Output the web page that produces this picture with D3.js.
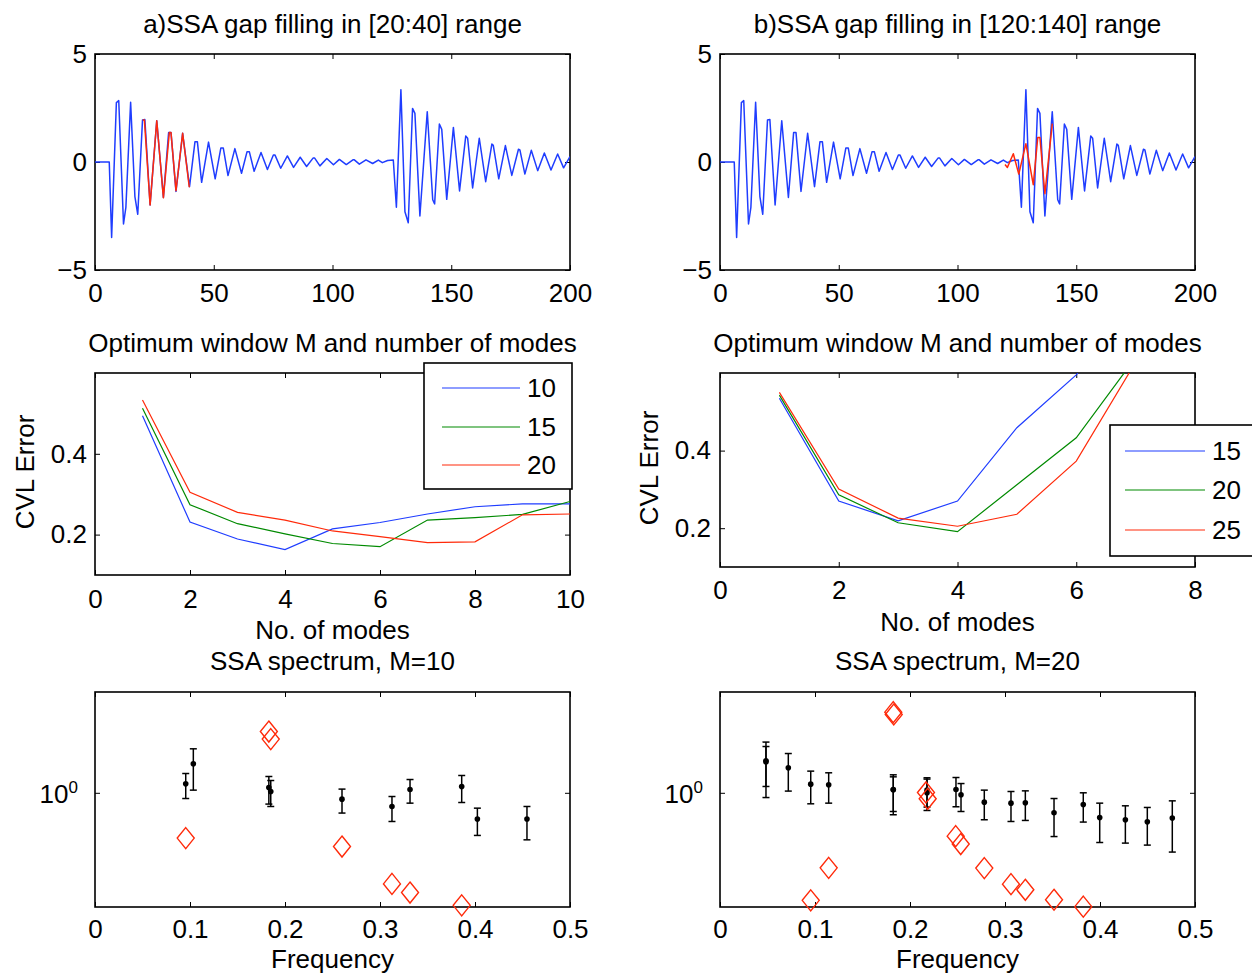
<!DOCTYPE html>
<html><head><meta charset="utf-8">
<script src="https://cdn.jsdelivr.net/npm/d3@7"></script>
<style>body{margin:0;background:#fff}svg{display:block;font-family:"Liberation Sans",Arial,Helvetica,sans-serif}</style>
</head><body><svg id="chart" width="1252" height="974"></svg>
<script>
// ---------- DATA ----------
// full signal (x, value) vertices
const signal = [[0,0],[6,0],[7,-3.49],[9,2.75],[10,2.84],[12,-2.87],[13,-2.1],[15,2.77],[16.8,-1.6],[18,-2.42],[20,1.94],[21,1.97],[23.2,-1.99],[26,1.91],[28.8,-1.64],[31,1.36],[32,1.36],[34.1,-1.36],[36.9,1.33],[39.8,-1.14],[42.1,0.94],[43.1,0.94],[44.9,-0.94],[47.8,0.92],[50.6,-0.78],[53,0.65],[54,0.65],[56,-0.63],[58.9,0.62],[61.7,-0.52],[64,0.47],[65,0.47],[67,-0.43],[69.9,0.44],[72.6,-0.35],[75.1,0.32],[75.8,0.32],[78.2,-0.29],[81,0.28],[83.6,-0.25],[86.4,0.22],[89.1,-0.21],[91.8,0.18],[92.5,0.18],[94.7,-0.18],[97.6,0.16],[100.4,-0.13],[102.9,0.12],[105.8,-0.12],[108.6,0.1],[109.2,0.1],[111.3,-0.1],[114.1,0.1],[116.9,-0.07],[119.3,0.09],[121,-0.03],[123.2,0.07],[125.6,0.09],[126.9,-2.09],[128.8,3.35],[130.5,-2.3],[131.9,-2.81],[133.7,2.48],[134.7,2.25],[136.8,-2.5],[139.9,2.33],[142.2,-1.75],[143,-1.94],[145,1.76],[146,1.51],[148.1,-1.73],[150.9,1.6],[153.5,-1.34],[156.1,1.2],[156.9,1.1],[159,-1.2],[161.8,1.1],[164.5,-0.91],[167.1,0.83],[167.7,0.77],[170,-0.78],[172.8,0.76],[175.5,-0.62],[178.3,0.59],[178.9,0.56],[181,-0.56],[183.7,0.54],[186.4,-0.4],[189.2,0.42],[192,-0.37],[194.8,0.37],[197.3,-0.27],[200,0.25]];
const fillA = [[20.1,1.94],[20.8,1.94],[23.2,-1.99],[26,1.91],[28.8,-1.65],[31.3,1.36],[32,1.36],[34.1,-1.33],[36.9,1.33],[39.7,-1.17]];
const fillB = [[120,-0.12],[121,-0.25],[123.5,0.38],[125.8,-0.56],[128.8,0.85],[131.9,-1.05],[133.8,1.14],[134.7,1.14],[136.8,-1.47],[139.9,1.78]];
const tsXTicks = [0,50,100,150,200];
const tsYTicks = [-5,0,5];

const modesC = [1,2,3,4,5,6,7,8,9,10];
const cvlC_M10 = [0.494,0.231,0.189,0.163,0.214,0.230,0.251,0.269,0.276,0.276];
const cvlC_M15 = [0.513,0.274,0.227,0.202,0.178,0.170,0.236,0.242,0.250,0.282];
const cvlC_M20 = [0.533,0.305,0.255,0.236,0.209,0.195,0.180,0.182,0.249,0.251];
const legendC = ["10","15","20"];
const modesD = [1,2,3,4,5,6,7,8];
const cvlD_M15 = [0.535,0.270,0.219,0.270,0.459,0.595,0.80,1.0];
const cvlD_M20 = [0.543,0.286,0.214,0.191,0.312,0.433,0.64,0.85];
const cvlD_M25 = [0.550,0.301,0.226,0.205,0.236,0.373,0.628,0.85];
const legendD = ["15","20","25"];
const cvlYTicks = [0.2,0.4];

const freqE = [0.0955,0.1035,0.183,0.185,0.260,0.3126,0.3316,0.386,0.4025,0.4547];
const eigE  = [1.115,1.422,1.066,1.016,0.926,0.847,1.041,1.080,0.727,0.727];
const eigE_hi = [1.264,1.706,1.219,1.161,1.046,0.956,1.175,1.234,0.830,0.847];
const eigE_lo = [0.933,1.033,0.872,0.847,0.782,0.706,0.882,0.889,0.596,0.565];
const dFreqE = [0.0955,0.183,0.185,0.260,0.3126,0.3316,0.386];
const dValE  = [0.577,2.104,1.919,0.521,0.331,0.298,0.255];

const freqF = [0.0484,0.0484,0.0719,0.0955,0.1144,0.1824,0.1824,0.2179,0.2179,0.2484,0.2537,0.2782,0.3063,0.3214,0.3516,0.3824,0.3997,0.4267,0.4498,0.4761];
const eigF  = [1.475,1.457,1.354,1.111,1.102,1.041,1.037,1.033,1.0,1.041,0.976,0.893,0.882,0.886,0.785,0.868,0.741,0.721,0.703,0.736];
const eigF_hi = [1.851,1.754,1.611,1.301,1.275,1.244,1.214,1.200,1.181,1.204,1.119,1.033,1.016,1.024,0.933,1.0,0.882,0.854,0.837,0.907];
const eigF_lo = [0.944,1.080,1.021,0.875,0.882,0.766,0.797,0.807,0.841,0.844,0.797,0.721,0.706,0.715,0.588,0.701,0.547,0.543,0.530,0.487];
const dFreqF = [0.0955,0.1144,0.1824,0.1829,0.2168,0.2186,0.2481,0.2534,0.2782,0.3063,0.3214,0.3516,0.3824];
const dValF  = [0.271,0.402,2.663,2.587,1.004,0.930,0.591,0.537,0.401,0.330,0.308,0.273,0.251];
const freqTicks = [0,0.1,0.2,0.3,0.4,0.5];

const BLUE = "#1f3dff", GREEN = "#008a00", RED = "#ff2a0a";
const FS = 26;

// ---------- DRAW ----------
const svg = d3.select("#chart");
const defs = svg.append("defs");
let clipId = 0;

function frame(xs, ys, o) {
  const [xl, xr] = xs.range();
  const [yb, yt] = ys.range();
  const g = svg.append("g");
  g.append("g").attr("transform", `translate(0,${yb})`)
    .call(d3.axisBottom(xs).tickValues(o.xt).tickSize(-5).tickPadding(o.xpad).tickFormat(o.xf));
  g.append("g").attr("transform", `translate(0,${yt})`)
    .call(d3.axisTop(xs).tickValues(o.xt).tickSize(-5).tickFormat(""));
  g.append("g").attr("transform", `translate(${xl},0)`)
    .call(d3.axisLeft(ys).tickValues(o.yt).tickSize(-5).tickPadding(o.ypad).tickFormat(o.yf));
  g.append("g").attr("transform", `translate(${xr},0)`)
    .call(d3.axisRight(ys).tickValues(o.yt).tickSize(-5).tickFormat(""));
  g.selectAll(".domain").remove();
  g.selectAll("g").attr("font-family", null).attr("font-size", null);
  g.selectAll(".tick line").attr("stroke", "#000").attr("stroke-width", 1);
  g.selectAll(".tick text").attr("font-size", FS).attr("fill", "#000");
  g.append("rect").attr("x", xl).attr("y", yt).attr("width", xr - xl).attr("height", yb - yt)
    .attr("fill", "none").attr("stroke", "#000").attr("stroke-width", 1.6);
  const id = "clip" + (clipId++);
  defs.append("clipPath").attr("id", id).append("rect")
    .attr("x", xl).attr("y", yt).attr("width", xr - xl).attr("height", yb - yt);
  return id;
}

function text(x, y, s, opts = {}) {
  const t = svg.append("text").attr("x", x).attr("y", y).attr("font-size", opts.size || FS)
    .attr("text-anchor", opts.anchor || "middle").attr("fill", "#000").text(s);
  if (opts.rotate) t.attr("transform", `rotate(-90,${x},${y})`);
  return t;
}

// Panels a, b: time series
const tsPanels = [
  {x0: 95, x1: 570, title: "a)SSA gap filling in [20:40] range", fill: fillA},
  {x0: 720, x1: 1195, title: "b)SSA gap filling in [120:140] range", fill: fillB}
];
tsPanels.forEach(p => {
  const xs = d3.scaleLinear().domain([0, 200]).range([p.x0, p.x1]);
  const ys = d3.scaleLinear().domain([-5, 5]).range([270, 54]);
  const cid = frame(xs, ys, {xt: tsXTicks, xf: d3.format("d"), xpad: 14, yt: tsYTicks, yf: d3.format("d"), ypad: 8});
  const line = d3.line().x(d => xs(d[0])).y(d => ys(d[1]));
  const g = svg.append("g").attr("clip-path", `url(#${cid})`);
  g.append("path").attr("d", line(signal)).attr("fill", "none").attr("stroke", BLUE).attr("stroke-width", 1.5).attr("stroke-linejoin", "round");
  g.append("path").attr("d", line(p.fill)).attr("fill", "none").attr("stroke", RED).attr("stroke-width", 1.5).attr("stroke-linejoin", "round");
  text((p.x0 + p.x1) / 2, 33, p.title);
});

// Panels c, d: CVL error
const cvlPanels = [
  {x0: 95, x1: 570, yb: 575, xmax: 10, modes: modesC, series: [cvlC_M10, cvlC_M15, cvlC_M20], labels: legendC,
   xt: [0,2,4,6,8,10], xpad: 15, ypad: 8, xlabY: 639, ylabX: 34, ylabY: 472,
   leg: {x: 424, y: 363, w: 148, h: 126, lx0: 442, lx1: 520, tx: 527, rows: [388, 427, 465]}},
  {x0: 720, x1: 1195, yb: 567, xmax: 8, modes: modesD, series: [cvlD_M15, cvlD_M20, cvlD_M25], labels: legendD,
   xt: [0,2,4,6,8], xpad: 14, ypad: 9, xlabY: 631, ylabX: 658, ylabY: 468,
   leg: {x: 1110, y: 425, w: 160, h: 131, lx0: 1125, lx1: 1205, tx: 1212, rows: [451, 490, 530]}}
];
const cols = [BLUE, GREEN, RED];
cvlPanels.forEach(p => {
  const xs = d3.scaleLinear().domain([0, p.xmax]).range([p.x0, p.x1]);
  const ys = d3.scaleLinear().domain([0.1, 0.6]).range([p.yb, 373]);
  const cid = frame(xs, ys, {xt: p.xt, xf: d3.format("d"), xpad: p.xpad, yt: cvlYTicks, yf: d3.format(".1f"), ypad: p.ypad});
  const g = svg.append("g").attr("clip-path", `url(#${cid})`);
  p.series.forEach((s, i) => {
    const line = d3.line().x((d, j) => xs(p.modes[j])).y(d => ys(d));
    g.append("path").attr("d", line(s)).attr("fill", "none").attr("stroke", cols[i]).attr("stroke-width", 1.2);
  });
  text((p.x0 + p.x1) / 2, 352, "Optimum window M and number of modes");
  text((p.x0 + p.x1) / 2, p.xlabY, "No. of modes");
  text(p.ylabX, p.ylabY, "CVL Error", {rotate: true});
  const L = p.leg;
  svg.append("rect").attr("x", L.x).attr("y", L.y).attr("width", L.w).attr("height", L.h)
    .attr("fill", "#fff").attr("stroke", "#000").attr("stroke-width", 1.6);
  p.labels.forEach((lab, i) => {
    svg.append("line").attr("x1", L.lx0).attr("x2", L.lx1).attr("y1", L.rows[i]).attr("y2", L.rows[i])
      .attr("stroke", cols[i]).attr("stroke-width", 1.2);
    text(L.tx, L.rows[i] + 9, lab, {anchor: "start"});
  });
});

// Panels e, f: SSA spectrum
const specPanels = [
  {x0: 95, x1: 570, title: "SSA spectrum, M=10", f: freqE, v: eigE, hi: eigE_hi, lo: eigE_lo, df: dFreqE, dv: dValE},
  {x0: 720, x1: 1195, title: "SSA spectrum, M=20", f: freqF, v: eigF, hi: eigF_hi, lo: eigF_lo, df: dFreqF, dv: dValF}
];
specPanels.forEach(p => {
  const xs = d3.scaleLinear().domain([0, 0.5]).range([p.x0, p.x1]);
  const ys = d3.scaleLog().domain([0.25, 3.4]).range([907, 692]);
  frame(xs, ys, {xt: freqTicks, xf: d => d === 0 ? "0" : d3.format(".1f")(d), xpad: 13, yt: [1], yf: () => "", ypad: 8});
  const lab = svg.append("text").attr("x", p.x0 - 17).attr("y", ys(1) + 10).attr("text-anchor", "end")
    .attr("font-size", FS).attr("fill", "#000");
  lab.append("tspan").text("10");
  lab.append("tspan").attr("font-size", 17).attr("dy", -10).text("0");
  const g = svg.append("g");
  p.f.forEach((fx, i) => {
    const x = xs(fx);
    g.append("line").attr("x1", x).attr("x2", x).attr("y1", ys(p.hi[i])).attr("y2", ys(p.lo[i])).attr("stroke", "#000").attr("stroke-width", 1.5);
    [p.hi[i], p.lo[i]].forEach(v => g.append("line").attr("x1", x - 3.5).attr("x2", x + 3.5).attr("y1", ys(v)).attr("y2", ys(v)).attr("stroke", "#000").attr("stroke-width", 1.5));
    g.append("circle").attr("cx", x).attr("cy", ys(p.v[i])).attr("r", 2.8).attr("fill", "#000");
  });
  p.df.forEach((fx, i) => {
    const x = xs(fx), y = ys(p.dv[i]);
    g.append("path").attr("d", `M${x},${y - 10.5}L${x + 8.5},${y}L${x},${y + 10.5}L${x - 8.5},${y}Z`)
      .attr("fill", "none").attr("stroke", RED).attr("stroke-width", 1.4);
  });
  text((p.x0 + p.x1) / 2, 670, p.title);
  text((p.x0 + p.x1) / 2, 968, "Frequency");
});
</script></body></html>
